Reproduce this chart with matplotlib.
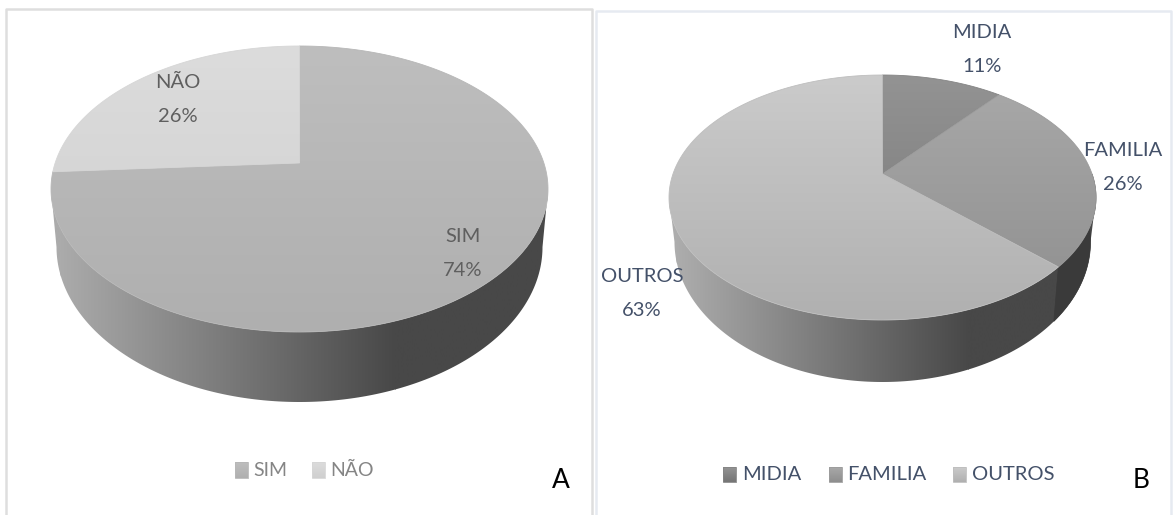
import numpy as np
import matplotlib
matplotlib.use('Agg')
import matplotlib.pyplot as plt
from matplotlib.patches import Polygon

plt.rcParams['font.family'] = ['Lato', 'DejaVu Sans']

# values
labels_a = ['SIM', 'NÃO']
values_a = [74, 26]
labels_b = ['MIDIA', 'FAMILIA', 'OUTROS']
values_b = [11, 26, 63]

# (top colour, bottom colour) of each slice surface
colors_a = [('#bebebe', '#afafaf'), ('#dcdcdc', '#cfcfcf')]
colors_b = [('#939393', '#757575'), ('#a9a9a9', '#8e8e8e'), ('#cbcbcb', '#b0b0b0')]

W, H = 1173, 515
fig = plt.figure(figsize=(W / 100, H / 100), dpi=100)
ax = fig.add_axes([0, 0, 1, 1])
ax.set_xlim(0, W)
ax.set_ylim(H, 0)
ax.axis('off')


def project(ang, cx, cy, rx, ry, k):
    # ang is clockwise from 12 o'clock, perspective view of a circle
    X = np.sin(ang)
    Y = np.cos(ang)
    d = 1 + k * Y
    s = np.sqrt(1 - k * k)
    return cx + rx * s * X / d, cy - ry * k - ry * s * s * Y / d


def gradient(path_xy, x0, x1, y0, y1, c0, c1, horizontal=False, zorder=2, edge=True):
    c0 = np.array(matplotlib.colors.to_rgb(c0))
    c1 = np.array(matplotlib.colors.to_rgb(c1))
    t = np.linspace(0, 1, 256)
    g = c0[None, :] * (1 - t[:, None]) + c1[None, :] * t[:, None]
    g = g[None, :, :] if horizontal else g[:, None, :]
    im = ax.imshow(g, extent=(x0, x1, y1, y0), aspect='auto', zorder=zorder, interpolation='bilinear')
    clip = Polygon(path_xy, closed=True, transform=ax.transData)
    im.set_clip_path(clip)
    if edge:
        ax.add_patch(Polygon(path_xy, closed=True, fill=False, ec=(c0 + c1) / 2, lw=0.6, zorder=zorder))


def pie3d(values, colors, top, bottom, side_colors, seams=()):
    cx, cy, rx, ry, k = top
    bcx, bcy, brx, bry = bottom
    # side wall, silhouette of both discs
    t = np.linspace(np.pi / 2, 3 * np.pi / 2, 200)
    low_x = bcx + brx * np.sin(t)
    low_y = bcy - bry * np.cos(t)
    up = np.linspace(np.pi * 1.5, np.pi * 0.5, 200)
    up_x = cx + rx * np.sin(up)
    up_y = cy - ry * np.cos(up)
    side = np.column_stack([np.r_[low_x, up_x], np.r_[low_y, up_y]])
    x_light, x_dark, c_light, c_dark = side_colors
    # colours run from left (light) to right (dark)
    gradient(side, cx - rx, cx - rx + x_light, 0, H, c_light, c_light, horizontal=True, edge=False)
    gradient(side, cx - rx + x_light - 1, cx - rx + x_dark, 0, H, c_light, c_dark, horizontal=True, edge=False)
    gradient(side, cx - rx + x_dark - 1, cx + rx + 2, 0, H, c_dark, c_dark, horizontal=True, edge=False)

    # darker wall of the slices on the right
    for frac, col in seams:
        a = 2 * np.pi * frac
        s_up = np.linspace(a, np.pi / 2, 60)
        tx, ty = project(s_up, cx, cy, rx, ry, k)
        s_low = np.linspace(np.pi / 2, a, 60)
        bx, by = project(s_low, bcx, bcy, brx, bry, k)
        pts = np.column_stack([np.r_[tx, bx], np.r_[ty, by]])
        ax.add_patch(Polygon(pts, closed=True, fc=col, ec=col, lw=0.5, zorder=3))

    # top surface
    start = 0.0
    total = sum(values)
    for v, (c0, c1) in zip(values, colors):
        stop = start + 2 * np.pi * v / total
        a = np.linspace(start, stop, 300)
        x, y = project(a, cx, cy, rx, ry, k)
        # slice apex is where the circle centre lands
        apex_y = cy - ry * k
        pts = np.column_stack([np.r_[cx, x], np.r_[apex_y, y]])
        gradient(pts, cx - rx, cx + rx, cy - ry, cy + ry, c0, c1, zorder=4)
        start = stop


pie3d(values_a, colors_a, (299.5, 189, 248.5, 143, 0.182), (299.5, 247, 243, 155),
      (10, 345, '#ababab', '#484848'))
pie3d(values_b, colors_b, (882.5, 197.5, 213.5, 122.5, 0.192), (882.5, 242, 208, 140),
      (8, 300, '#adadad', '#484848'),
      seams=[((values_b[0] + values_b[1]) / sum(values_b), '#3a3a3a')])

# panel frames
ax.plot([6, 6, 592, 592], [H, 8.5, 8.5, H], color='#dedede', lw=1.8, zorder=1)
ax.plot([596, 596, 1171, 1171], [H, 10.5, 10.5, H], color='#e6eaf1', lw=1.8, zorder=1)

# data labels
grey = '#5f5f5f'
slate = '#445169'
fs = 14.5
lab_a = [(463, 236), (178, 82)]
for n, v, (x, y) in zip(labels_a, values_a, lab_a):
    ax.text(x, y, n, color=grey, fontsize=fs, ha='center', va='center', zorder=6)
    ax.text(x, y + 34, f'{v}%', color=grey, fontsize=fs, ha='center', va='center', zorder=6)
lab_b = [(982, 33), (1123, 150), (642, 277)]
for n, v, (x, y) in zip(labels_b, values_b, lab_b):
    ax.text(x, y, n, color=slate, fontsize=fs, ha='center', va='center', zorder=6)
    ax.text(x, y + 34, f'{v}%', color=slate, fontsize=fs, ha='center', va='center', zorder=6)

# legends
leg_a = [(235, 253), (312, 330)]
for n, (c0, c1), (x0, tx) in zip(labels_a, colors_a, leg_a):
    gradient([(x0, 462), (x0 + 13, 462), (x0 + 13, 478), (x0, 478)], x0, x0 + 13, 462, 478, c0, c1, zorder=4)
    ax.text(tx, 470, n, color='#858585', fontsize=14, ha='left', va='center')
leg_b = [(723, 742), (829, 847), (953, 972)]
for n, (c0, c1), (x0, tx) in zip(labels_b, colors_b, leg_b):
    gradient([(x0, 467), (x0 + 13, 467), (x0 + 13, 482), (x0, 482)], x0, x0 + 13, 467, 482, c0, c1, zorder=4)
    ax.text(tx, 474, n, color=slate, fontsize=14.5, ha='left', va='center')

# panel letters
ax.text(561, 481, 'A', color='black', fontsize=19, ha='center', va='center')
ax.text(1141, 481, 'B', color='black', fontsize=19, ha='center', va='center')

ax.set_xlim(0, W)
ax.set_ylim(H, 0)
fig.savefig('out.png', dpi=100, facecolor='white')
